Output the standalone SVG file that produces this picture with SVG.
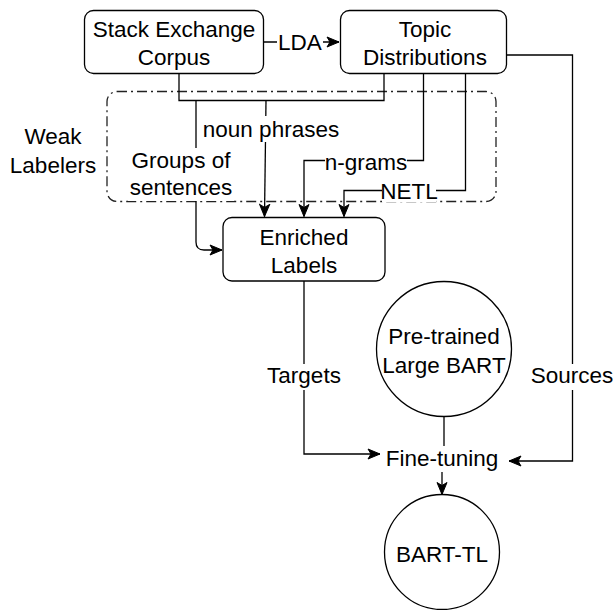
<svg xmlns="http://www.w3.org/2000/svg" width="613" height="610" viewBox="0 0 613 610">
<defs>
<marker id="arr" markerUnits="userSpaceOnUse" markerWidth="14" markerHeight="12" viewBox="0 0 14 12" refX="13" refY="6" orient="auto">
<path d="M1,1 L13,6 L1,11 L4,6 z" fill="#000" stroke="#000" stroke-width="1"/>
</marker>
<style>
.box{fill:#fff;stroke:#000;stroke-width:1.3}
.ln{fill:none;stroke:#000;stroke-width:1.3}
.t{font-family:"Liberation Sans",Arial,sans-serif;font-size:22.5px;fill:#000;text-anchor:middle}
.bg{fill:#fff;stroke:none}
</style>
</defs>
<rect width="613" height="610" fill="#fff"/>

<g id="weak-labelers">
<rect x="107" y="91.5" width="389" height="110" rx="10" fill="none" stroke="#222" stroke-width="1.3" stroke-dasharray="10 4 2 4"/>
<text class="t" x="53" y="144">Weak</text>
<text class="t" x="53" y="173">Labelers</text>
</g>

<g id="connectors">
<path class="ln" d="M179,73.5 L179,100.5 L384,100.5 L384,73.5"/>
<path class="ln" d="M264,42 L339,42" marker-end="url(#arr)"/>
<path class="ln" d="M196,100.5 L196,242 Q196,250 204,250 L222,250" marker-end="url(#arr)"/>
<path class="ln" d="M266,100.5 L264.5,216.5" marker-end="url(#arr)"/>
<path class="ln" d="M423.5,73.5 L423.5,160.5 L304,160.5 L304,216.5" marker-end="url(#arr)"/>
<path class="ln" d="M465.5,73.5 L465.5,190.5 L344,190.5 L344,216.5" marker-end="url(#arr)"/>
<path class="ln" d="M507,55 L572.5,55 L572.5,461 L509,461" marker-end="url(#arr)"/>
<path class="ln" d="M304,281 L304,454 L380,454" marker-end="url(#arr)"/>
<path class="ln" d="M444,417 L444,448"/>
<path class="ln" d="M442,448 L442,494.5" marker-end="url(#arr)"/>

<rect class="bg" x="277" y="32" width="46" height="22"/>
<text class="t" x="300" y="49.5">LDA</text>
<rect class="bg" x="200" y="116" width="142" height="26"/>
<text class="t" x="271" y="137">noun phrases</text>
<rect class="bg" x="128" y="148" width="106" height="53"/>
<text class="t" x="181" y="167.5">Groups of</text>
<text class="t" x="181" y="195">sentences</text>
<rect class="bg" x="325" y="150" width="82" height="24"/>
<text class="t" x="366" y="169.5">n-grams</text>
<rect class="bg" x="382" y="180" width="54" height="22"/>
<text class="t" x="409" y="199">NETL</text>
<rect class="bg" x="267" y="364" width="74" height="26"/>
<text class="t" x="304" y="383">Targets</text>
<rect class="bg" x="533" y="364" width="79" height="26"/>
<text class="t" x="572" y="383">Sources</text>
<rect class="bg" x="386" y="446" width="112" height="26"/>
<text class="t" x="442" y="466">Fine-tuning</text>
</g>

<g id="stack-exchange">
<rect class="box" x="84.5" y="10.5" width="179" height="63" rx="9"/>
<text class="t" x="174" y="37">Stack Exchange</text>
<text class="t" x="174" y="65">Corpus</text>
</g>

<g id="topic-distributions">
<rect class="box" x="340.5" y="10.5" width="166" height="63" rx="9"/>
<text class="t" x="425" y="37">Topic</text>
<text class="t" x="425" y="65">Distributions</text>
</g>

<g id="enriched-labels">
<rect class="box" x="223" y="217.5" width="162" height="63.5" rx="9"/>
<text class="t" x="304" y="245">Enriched</text>
<text class="t" x="304" y="273">Labels</text>
</g>

<g id="pretrained-bart">
<circle class="box" cx="444" cy="349" r="67.5"/>
<text class="t" x="444" y="344">Pre-trained</text>
<text class="t" x="444" y="372.5">Large BART</text>
</g>

<g id="bart-tl">
<circle class="box" cx="442" cy="552" r="57.5"/>
<text class="t" x="442" y="561.5">BART-TL</text>
</g>
</svg>
